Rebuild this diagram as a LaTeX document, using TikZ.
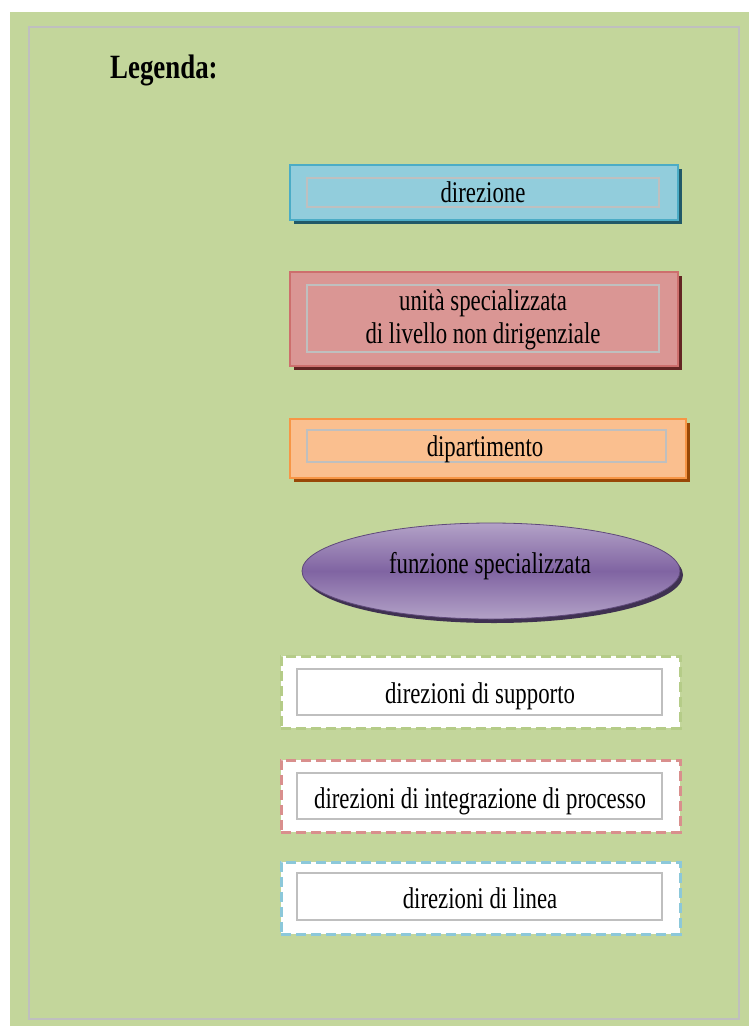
\documentclass[tikz,border=0pt]{standalone}
\usepackage{fontspec}
\setmainfont{Liberation Serif}
\usetikzlibrary{shadows,shapes.geometric}

\definecolor{bggreen}{HTML}{C3D69B}
\definecolor{framegray}{HTML}{BFBFBF}
\definecolor{dirfill}{HTML}{92CDDC}
\definecolor{dirline}{HTML}{4BACC6}
\definecolor{dirshade}{HTML}{215968}
\definecolor{unitfill}{HTML}{DA9694}
\definecolor{unitline}{HTML}{CD6F6D}
\definecolor{unitshade}{HTML}{632523}
\definecolor{dipfill}{HTML}{FABF8F}
\definecolor{dipline}{HTML}{F79646}
\definecolor{dipshade}{HTML}{984807}
\definecolor{funlight}{HTML}{B3A2C7}
\definecolor{fundark}{HTML}{8064A2}
\definecolor{funline}{HTML}{5F497A}
\definecolor{funshade}{HTML}{3F3151}
\definecolor{suppline}{HTML}{B5CC88}
\definecolor{integline}{HTML}{D98F8D}
\definecolor{linealine}{HTML}{8CC8DA}

% narrow serif lettering
\newcommand{\narrowtxt}[1]{\scalebox{0.76}[1]{#1}}

\begin{document}
\begin{tikzpicture}[x=1pt,y=-1pt,
  solidbox/.style n args={3}{draw=#1, fill=#2, line width=1.5pt,
    minimum width=388pt, inner sep=0pt,
    drop shadow={shadow xshift=4pt, shadow yshift=-4pt, fill=#3, opacity=1}},
  dashbox/.style={draw=#1, fill=white, line width=3pt,
    dash pattern=on 10pt off 5pt,
    preaction={draw=white, line width=3pt},
    minimum width=399pt, minimum height=72pt, inner sep=0pt},
  innerbox/.style={draw=framegray, line width=1.2pt, inner sep=0pt},
  label/.style={anchor=base, inner sep=0pt,
    font=\fontsize{30}{33}\selectfont, text=black},
]
\useasboundingbox (0,0) rectangle (749,1026);
\fill[white] (0,0) rectangle (749,1026);
\fill[bggreen] (10,12) rectangle (749,1026);
\draw[framegray, line width=1.5pt] (29,27) rectangle (739,1019);

% title
\node[anchor=base west, inner sep=0pt, font=\fontsize{34}{36}\selectfont\bfseries]
  (title) at (110,78) {\scalebox{0.79}[1]{Legenda:}};

% direzione
\node[solidbox={dirline}{dirfill}{dirshade}, minimum height=55pt] (dir) at (484,192.5) {};
\node[innerbox, minimum width=352pt, minimum height=29pt] (dirin) at (483,192.5) {};
\node[label] (dirtxt) at (483,202) {\narrowtxt{direzione}};

% unita specializzata
\node[solidbox={unitline}{unitfill}{unitshade}, minimum height=94pt] (unit) at (484,319) {};
\node[innerbox, minimum width=352pt, minimum height=67pt] (unitin) at (483,318.5) {};
\node[label] (unittxta) at (483,310) {\narrowtxt{unità specializzata}};
\node[label] (unittxtb) at (483,343) {\narrowtxt{di livello non dirigenziale}};

% dipartimento
\node[solidbox={dipline}{dipfill}{dipshade}, minimum width=396pt, minimum height=59pt] (dip) at (488,448.5) {};
\node[innerbox, minimum width=359pt, minimum height=32pt] (dipin) at (486.5,446) {};
\node[label] (diptxt) at (485,456) {\narrowtxt{dipartimento}};

% funzione specializzata
\node[ellipse, draw=funline, line width=0.8pt, minimum width=378pt, minimum height=96pt,
  inner sep=0pt, top color=funlight, bottom color=funlight, middle color=fundark,
  drop shadow={shadow xshift=3pt, shadow yshift=-4pt, fill=funshade, opacity=1}]
  (fun) at (491,571) {};
\node[label] (funtxt) at (490,573) {\narrowtxt{funzione specializzata}};

% direzioni di supporto
\node[dashbox=suppline] (supp) at (480.5,692) {};
\node[innerbox, minimum width=365pt, minimum height=46pt] (suppin) at (479.5,692) {};
\node[label] (supptxt) at (480,703) {\narrowtxt{direzioni di supporto}};

% direzioni di integrazione di processo
\node[dashbox=integline] (integ) at (480.5,796) {};
\node[innerbox, minimum width=365pt, minimum height=46pt] (integin) at (479.5,796) {};
\node[label] (integtxt) at (480,808) {\narrowtxt{direzioni di integrazione di processo}};

% direzioni di linea
\node[dashbox=linealine] (linea) at (480.5,898) {};
\node[innerbox, minimum width=365pt, minimum height=47pt] (lineain) at (479.5,896.5) {};
\node[label] (lineatxt) at (480,908) {\narrowtxt{direzioni di linea}};
\end{tikzpicture}
\end{document}
